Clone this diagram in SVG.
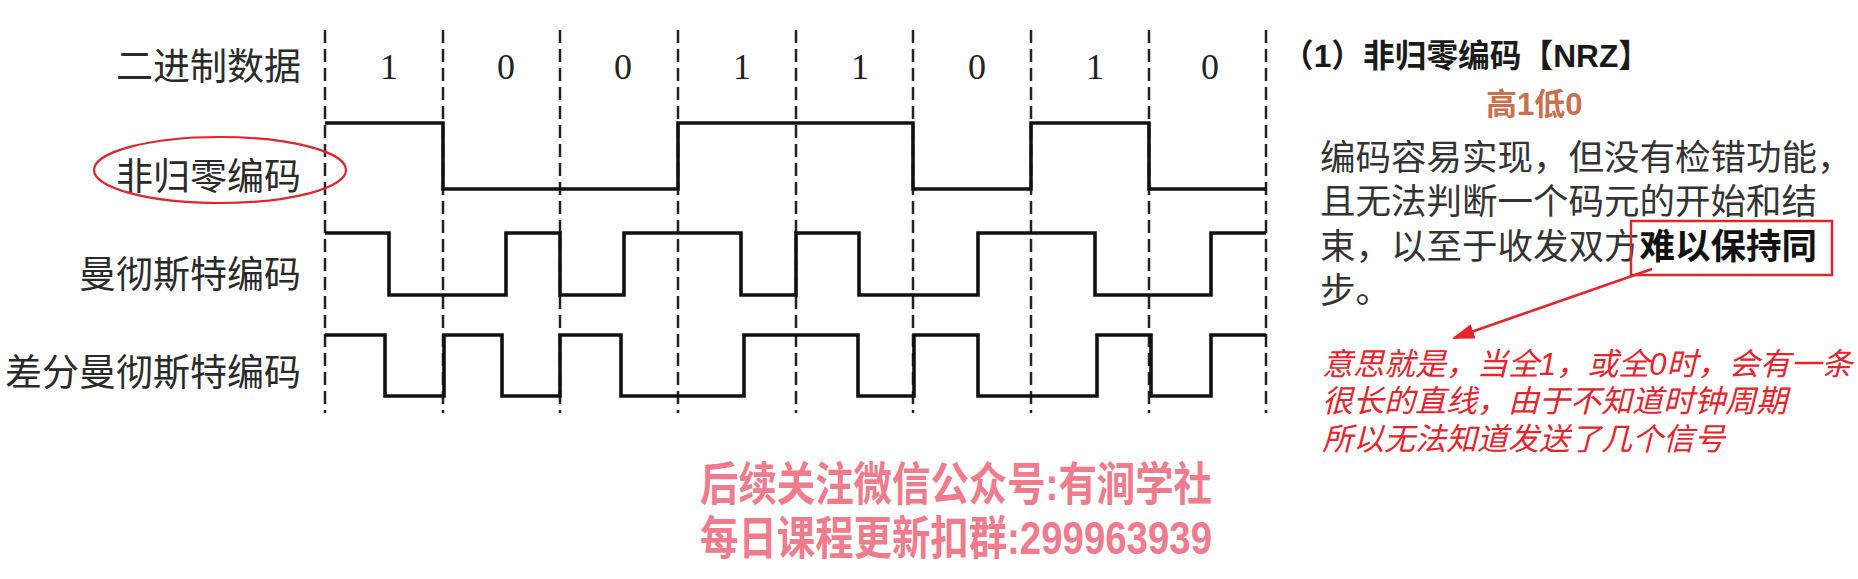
<svg xmlns="http://www.w3.org/2000/svg" width="1858" height="579" viewBox="0 0 1858 579">
  <style>
    .lbl { font-family: "Noto Sans CJK SC", "Liberation Sans", sans-serif; font-size: 37px; fill: #2a2a2a; text-anchor: end; }
    .bit { font-family: "Liberation Serif", "Noto Sans CJK SC", serif; font-size: 36px; fill: #222; text-anchor: middle; }
    .grid { stroke: #222; stroke-width: 2.5; stroke-dasharray: 13 6; fill: none; }
    .wave { stroke: #111; stroke-width: 3.6; fill: none; stroke-linejoin: miter; }
    .title { font-family: "Liberation Sans", "Noto Sans CJK SC", sans-serif; font-size: 32px; font-weight: bold; fill: #1a1a1a; }
    .body { font-family: "Liberation Sans", "Noto Sans CJK SC", sans-serif; font-size: 35.5px; fill: #333; }
    .note { font-family: "Liberation Sans", "Noto Sans CJK SC", sans-serif; font-size: 31px; font-style: italic; fill: #e8232b; }
    .wm { font-family: "Liberation Sans", "Noto Sans CJK SC", sans-serif; font-size: 46px; font-weight: bold; fill: #f07b8c; }
    .redline { stroke: #e8232b; fill: none; }
  </style>
  <defs>
    <marker id="arrowRed" viewBox="0 0 10 10" refX="9" refY="5" markerWidth="9" markerHeight="6" markerUnits="strokeWidth" orient="auto" preserveAspectRatio="none">
      <path d="M0,0 L10,5 L0,10 z" fill="#e8232b"/>
    </marker>
  </defs>
  <rect x="0" y="0" width="1858" height="579" fill="#ffffff"/>

  <g id="grid">
    <line class="grid" x1="325" y1="30" x2="325" y2="413"/>
    <line class="grid" x1="443" y1="30" x2="443" y2="413"/>
    <line class="grid" x1="560" y1="30" x2="560" y2="413"/>
    <line class="grid" x1="678" y1="30" x2="678" y2="413"/>
    <line class="grid" x1="796" y1="30" x2="796" y2="413"/>
    <line class="grid" x1="913" y1="30" x2="913" y2="413"/>
    <line class="grid" x1="1031" y1="30" x2="1031" y2="413"/>
    <line class="grid" x1="1149" y1="30" x2="1149" y2="413"/>
    <line class="grid" x1="1266" y1="30" x2="1266" y2="413"/>
  </g>

  <g id="row-binary">
    <text class="lbl" x="301" y="80">二进制数据</text>
    <text class="bit" x="389" y="79">1</text>
    <text class="bit" x="506" y="79">0</text>
    <text class="bit" x="623" y="79">0</text>
    <text class="bit" x="742" y="79">1</text>
    <text class="bit" x="860" y="79">1</text>
    <text class="bit" x="977" y="79">0</text>
    <text class="bit" x="1095" y="79">1</text>
    <text class="bit" x="1210" y="79">0</text>
  </g>

  <g id="row-nrz">
    <text class="lbl" x="301" y="190">非归零编码</text>
    <ellipse cx="220" cy="170" rx="126" ry="33" fill="none" stroke="#e0262c" stroke-width="2.2"/>
    <polyline class="wave" points="325,123 443,123 443,189 678,189 678,123 913,123 913,189 1031,189 1031,123 1149,123 1149,189 1266,189"/>
  </g>

  <g id="row-manchester">
    <text class="lbl" x="301" y="288">曼彻斯特编码</text>
    <polyline class="wave" points="325,233 389,233 389,295 506,295 506,233 560,233 560,295 624,295 624,233 741,233 741,295 796,295 796,233 859,233 859,295 978,295 978,233 1095,233 1095,295 1211,295 1211,233 1266,233"/>
  </g>

  <g id="row-diff-manchester">
    <text class="lbl" x="301" y="386">差分曼彻斯特编码</text>
    <polyline class="wave" points="325,335 385,335 385,396 444,396 444,335 502,335 502,396 560,396 560,335 621,335 621,396 744,396 744,335 858,335 858,396 914,396 914,335 978,335 978,396 1097,396 1097,335 1151,335 1151,396 1211,396 1211,335 1266,335"/>
  </g>

  <g id="explanation">
    <text class="title" x="1282" y="67" textLength="368" lengthAdjust="spacingAndGlyphs">（1）非归零编码【NRZ】</text>
    <text x="1486" y="115" font-family="Liberation Sans, Noto Sans CJK SC, sans-serif" font-size="31" font-weight="bold" fill="#c8704f">高1低0</text>
    <text class="body" x="1320" y="170">编码容易实现，但没有检错功能，</text>
    <text class="body" x="1320" y="214">且无法判断一个码元的开始和结</text>
    <text class="body" x="1320" y="259">束，以至于收发双方<tspan font-weight="bold" fill="#111">难以保持同</tspan></text>
    <text class="body" x="1320" y="303">步。</text>
    <rect x="1631" y="221" width="201" height="54" fill="none" stroke="#e0262c" stroke-width="2.5"/>
  </g>

  <g id="connectors">
    <line class="redline" x1="1652" y1="269" x2="1454" y2="338" stroke-width="2.5" marker-end="url(#arrowRed)"/>
  </g>

  <g id="note">
    <text class="note" x="1322" y="375">意思就是，当全1，或全0时，会有一条</text>
    <text class="note" x="1322" y="412">很长的直线，由于不知道时钟周期</text>
    <text class="note" x="1322" y="450">所以无法知道发送了几个信号</text>
  </g>

  <g id="watermark">
    <text class="wm" x="700" y="500" textLength="512" lengthAdjust="spacingAndGlyphs">后续关注微信公众号:有涧学社</text>
    <text class="wm" x="700" y="554" textLength="512" lengthAdjust="spacingAndGlyphs">每日课程更新扣群:299963939</text>
  </g>
</svg>
